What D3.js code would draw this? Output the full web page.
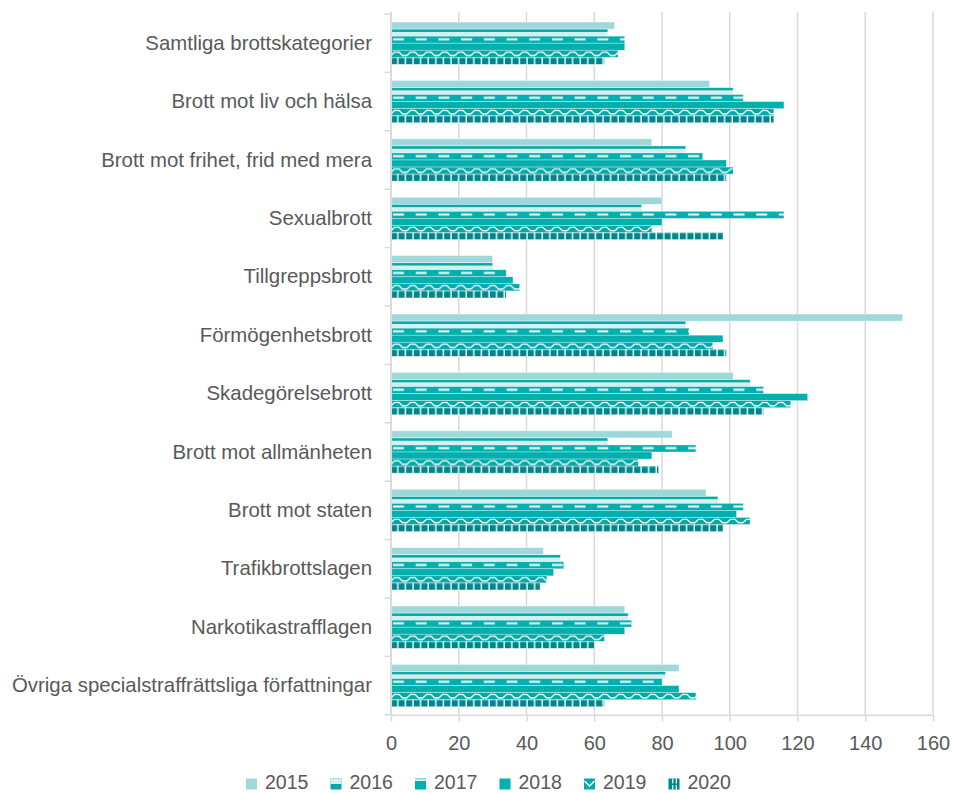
<!DOCTYPE html>
<html>
<head>
<meta charset="utf-8">
<script src="https://cdn.jsdelivr.net/npm/d3@7"></script>
<style>
  body { margin: 0; background: #fff; }
  text { font-family: "Liberation Sans", Arial, sans-serif; fill: #595959; }
</style>
</head>
<body>
<svg id="chart"></svg>
<script>
const categories = [
  "Samtliga brottskategorier",
  "Brott mot liv och hälsa",
  "Brott mot frihet, frid med mera",
  "Sexualbrott",
  "Tillgreppsbrott",
  "Förmögenhetsbrott",
  "Skadegörelsebrott",
  "Brott mot allmänheten",
  "Brott mot staten",
  "Trafikbrottslagen",
  "Narkotikastrafflagen",
  "Övriga specialstraffrättsliga författningar"
];
const years = ["2015", "2016", "2017", "2018", "2019", "2020"];

const values2015 = [66, 94, 77, 80, 30, 151, 101, 83, 93, 45, 69, 85];
const values2016 = [64, 101, 87, 74, 30, 87, 106, 64, 96.5, 50, 70, 81];
const values2017 = [69, 104, 92, 116, 34, 88, 110, 90, 104, 51, 71, 80];
const values2018 = [69, 116, 99, 80, 36, 98, 123, 77, 102, 48, 69, 85];
const values2019 = [67, 113, 101, 77, 38, 95, 118, 73, 106, 46, 63, 90];
const values2020 = [63, 113, 99, 98, 34, 99, 110, 79, 98, 44, 60, 63];

const xTicks = [0, 20, 40, 60, 80, 100, 120, 140, 160];

const seriesValues = [values2015, values2016, values2017, values2018, values2019, values2020];

const width = 954, height = 793;
const gridColor = "#d9d9d9";
const teal = "#00b0ae", darkTeal = "#00868a", pale = "#d6eeee";

const svg = d3.select("#chart").attr("width", width).attr("height", height);
const defs = svg.append("defs");

const x = d3.scaleLinear().domain([0, 160]).range([391, 933]);
const y = d3.scaleBand().domain(categories).range([14, 714.8])
  .paddingInner(0.276).paddingOuter(0.138);
const yInner = d3.scaleBand().domain(years).range([0, y.bandwidth()]);

// Pattern tiles are one band step tall and live in each group's local
// coordinates, so every category gets the same look.
const step = y.step();
const row = year => yInner(year);
const rowH = yInner.bandwidth();

function makePattern(id, w) {
  return defs.append("pattern")
    .attr("id", id)
    .attr("patternUnits", "userSpaceOnUse")
    .attr("x", 391).attr("y", 0)
    .attr("width", w).attr("height", step);
}

// 2016: teal strip on top, pale below
let p = makePattern("p2016", 10);
p.append("rect").attr("width", 10).attr("height", step).attr("fill", pale);
p.append("rect").attr("y", row("2016")).attr("width", 10).attr("height", 2.8).attr("fill", "#00a9a6");

// 2017: teal with wide white dashes
p = makePattern("p2017", 22.7);
p.append("rect").attr("width", 22.7).attr("height", step).attr("fill", teal);
p.append("rect").attr("x", 2).attr("y", row("2017") + 2.2).attr("width", 11).attr("height", 2).attr("fill", "#fff");

// 2019: teal with white zigzag
p = makePattern("p2019", 16);
p.append("rect").attr("width", 16).attr("height", step).attr("fill", "#00aaa9");
const zy = row("2019");
p.append("path")
  .attr("d", `M0,${zy + 5.2} L3.5,${zy + 1.8} L8,${zy + 1.8} L11.5,${zy + 5.2} L16,${zy + 5.2}`)
  .attr("fill", "none").attr("stroke", "#fff").attr("stroke-width", 1.3);

// 2020: dark teal blocks split by white verticals
p = makePattern("p2020", 7.6);
p.append("rect").attr("width", 7.6).attr("height", step).attr("fill", darkTeal);
p.append("rect").attr("y", row("2020")).attr("width", 7.6).attr("height", 1.2).attr("fill", "#3fa8aa");
p.append("rect").attr("x", 6.1).attr("width", 1.5).attr("height", step).attr("fill", "#e8f5f5");

const fills = {
  "2015": "#9fd8db",
  "2016": "url(#p2016)",
  "2017": "url(#p2017)",
  "2018": teal,
  "2019": "url(#p2019)",
  "2020": "url(#p2020)"
};

// vertical gridlines
svg.append("g").attr("class", "grid")
  .selectAll("line")
  .data(xTicks)
  .enter()
  .append("line")
  .attr("x1", d => x(d)).attr("x2", d => x(d))
  .attr("y1", 12).attr("y2", 714.8)
  .attr("stroke", gridColor).attr("stroke-width", 1.5);

// bars
const groups = svg.append("g").attr("class", "bars")
  .selectAll("g")
  .data(categories)
  .enter()
  .append("g")
  .attr("transform", c => "translate(0," + y(c) + ")");

groups.selectAll("rect")
  .data((c, i) => years.map((yr, k) => ({year: yr, value: seriesValues[k][i]})))
  .enter()
  .append("rect")
  .attr("x", x(0) + 0.8)
  .attr("y", d => yInner(d.year))
  .attr("width", d => x(d.value) - x(0) - 0.8)
  .attr("height", rowH)
  .attr("fill", d => fills[d.year])
  .attr("stroke", "#fff").attr("stroke-opacity", 0.55).attr("stroke-width", 0.6);

// bottom axis
const xAxis = svg.append("g")
  .attr("transform", "translate(0,714.8)")
  .call(d3.axisBottom(x).tickValues(xTicks).tickSizeInner(6.7).tickSizeOuter(0).tickPadding(14.5));
xAxis.select(".domain").attr("stroke", gridColor).attr("stroke-width", 1.5);
xAxis.selectAll(".tick line").attr("stroke", gridColor).attr("stroke-width", 1.5);
xAxis.selectAll("text").style("font-size", "20px").attr("fill", "#595959");

// left axis: labels centred on bands, ticks on band boundaries
const yAxis = svg.append("g")
  .attr("transform", "translate(391,0)")
  .call(d3.axisLeft(y).tickSize(0).tickPadding(19));
yAxis.select(".domain").remove();
yAxis.selectAll("text").style("font-size", "20.4px").attr("fill", "#595959");

const bounds = categories.map(c => y(c) - step * y.paddingInner() / 2);
bounds.push(714.8);
svg.append("line")
  .attr("x1", 391).attr("x2", 391).attr("y1", 12).attr("y2", 714.8)
  .attr("stroke", gridColor).attr("stroke-width", 1.5);
svg.append("g").selectAll("line")
  .data(bounds)
  .enter()
  .append("line")
  .attr("x1", 384.5).attr("x2", 391)
  .attr("y1", d => d).attr("y2", d => d)
  .attr("stroke", gridColor).attr("stroke-width", 1.5);

// legend: small swatches drawn to mimic each fill pattern
const legend = svg.append("g").attr("class", "legend")
  .selectAll("g")
  .data(years)
  .enter()
  .append("g")
  .attr("transform", (d, i) => "translate(" + (246 + i * 84.5) + ",778.5)");

const swatchBase = {"2015": "#9fd8db", "2016": "#00a9a6", "2017": teal, "2018": teal, "2019": "#00aaa9", "2020": darkTeal};
legend.append("rect")
  .attr("width", 11).attr("height", 11)
  .attr("fill", d => swatchBase[d]);
legend.filter(d => d === "2016").append("rect")
  .attr("width", 11).attr("height", 5.5).attr("fill", pale);
legend.filter(d => d === "2017").append("rect")
  .attr("y", 0.8).attr("width", 11).attr("height", 1.6).attr("fill", "#fff");
legend.filter(d => d === "2019").append("path")
  .attr("d", "M0.5,2.5 L5.5,7.5 L10.5,2.5")
  .attr("fill", "none").attr("stroke", "#fff").attr("stroke-width", 1.4);
legend.filter(d => d === "2020").selectAll(".gap")
  .data([[3.6, 0, 5], [3.6, 6.5, 4.5], [7.2, 0, 5], [7.2, 6.5, 4.5]])
  .enter()
  .append("rect")
  .attr("x", g => g[0]).attr("y", g => g[1])
  .attr("width", 1.3).attr("height", g => g[2])
  .attr("fill", "#e8f5f5");

legend.append("text")
  .attr("x", 19).attr("y", 10.5)
  .style("font-size", "19.5px")
  .text(d => d);
</script>
</body>
</html>
